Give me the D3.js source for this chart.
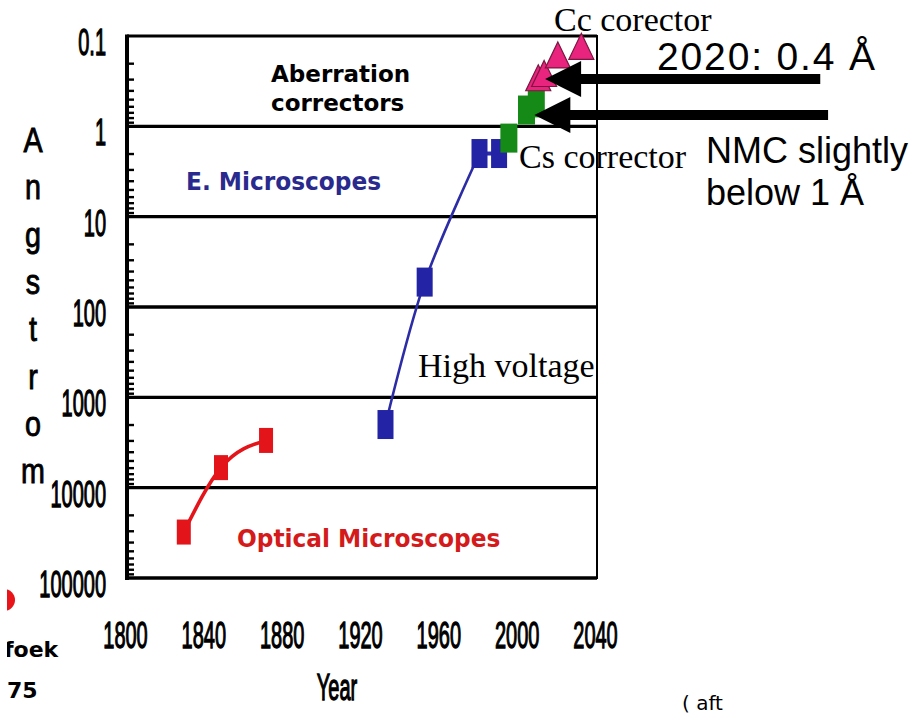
<!DOCTYPE html>
<html><head><meta charset="utf-8">
<script src="https://cdn.jsdelivr.net/npm/d3@7"></script>
<style>body{margin:0;background:#fff;} svg{display:block;}</style>
</head><body>
<svg id="chart" width="917" height="714"></svg>
<script>
// ---- data ----
const opticalYears = [1829, 1848, 1871];
const opticalValues = [31000, 6000, 3000];
const emYears = [1932, 1952, 1980, 1990];
const emValues = [2000, 53, 2, 2];
const csYears = [1995, 2004, 2009];
const csValues = [1.35, 0.66, 0.55];
const ccYears = [2010, 2013, 2020, 2032];
const ccValues = [0.29, 0.26, 0.162, 0.13];
const xTicks = [1800, 1840, 1880, 1920, 1960, 2000, 2040];
const yTicks = [0.1, 1, 10, 100, 1000, 10000, 100000];
const yTickLabels = ["0.1", "1", "10", "100", "1000", "10000", "100000"];
const arrowFromYears = [2154, 2158];
const arrowToYears = [2013.5, 2008];
const arrowValues = [0.3, 0.75];

// ---- setup ----
const svg = d3.select("#chart");
const m = {left: 127, right: 597, top: 36, bottom: 578};
const x = d3.scaleLinear().domain([1800, 2040]).range([m.left, m.right]);
const y = d3.scaleLog().domain([0.1, 100000]).range([m.top, m.bottom]);
const NARROW = "'Liberation Sans', Arial, sans-serif";
const SERIF = "'Liberation Serif', 'Times New Roman', serif";
const BOLD = "'DejaVu Sans', Verdana, sans-serif";

svg.append("rect").attr("width", 917).attr("height", 714).attr("fill", "#fff");

// gridlines at decades
svg.append("g").selectAll("line").data(yTicks).join("line")
  .attr("x1", m.left).attr("x2", m.right)
  .attr("y1", d => y(d)).attr("y2", d => y(d))
  .attr("stroke", "#000").attr("stroke-width", d => (d === 0.1 ? 2.8 : 3.4));
// right border
svg.append("line").attr("x1", m.right).attr("x2", m.right)
  .attr("y1", m.top - 1).attr("y2", m.bottom + 1)
  .attr("stroke", "#000").attr("stroke-width", 2);
// left axis line
svg.append("line").attr("x1", m.left).attr("x2", m.left)
  .attr("y1", m.top - 1.5).attr("y2", m.bottom + 2)
  .attr("stroke", "#000").attr("stroke-width", 4);

// minor ticks (inside)
const minor = [];
[0.1, 1, 10, 100, 1000, 10000].forEach(dec => { for (let k = 2; k <= 9; k++) minor.push(dec * k); });
const minorAxis = svg.append("g").attr("transform", `translate(${m.left},0)`)
  .call(d3.axisRight(y).tickValues(minor).tickSize(7).tickFormat(""));
minorAxis.select(".domain").remove();
minorAxis.selectAll("line").attr("stroke", "#000").attr("stroke-width", 2.4);

// y tick labels
const sx = 0.54;
const yAxis = svg.append("g").attr("transform", `translate(${m.left},0)`)
  .call(d3.axisLeft(y).tickValues(yTicks).tickFormat((d, i) => yTickLabels[i]).tickSize(0));
yAxis.select(".domain").remove();
yAxis.selectAll("text")
  .attr("font-family", NARROW).attr("font-size", 37).attr("fill", "#000")
  .attr("stroke", "#000").attr("stroke-width", 1.3)
  .attr("text-anchor", "end").attr("dy", 0).attr("y", 18.5)
  .attr("x", -21 / sx).attr("transform", `scale(${sx},1)`);

// x tick labels
const xAxis = svg.append("g").attr("transform", `translate(0,${m.bottom})`)
  .call(d3.axisBottom(x).tickValues(xTicks).tickFormat(d3.format("d")).tickSize(0));
xAxis.select(".domain").remove();
xAxis.selectAll("text")
  .attr("font-family", NARROW).attr("font-size", 37).attr("fill", "#000")
  .attr("stroke", "#000").attr("stroke-width", 1.3)
  .attr("text-anchor", "middle").attr("dy", 0).attr("y", 70)
  .attr("x", -2 / sx).attr("transform", `scale(${sx},1)`);

// axis titles
svg.append("text").attr("transform", `translate(337,700) scale(${sx},1)`)
  .attr("text-anchor", "middle").attr("font-family", NARROW).attr("font-size", 37)
  .attr("stroke", "#000").attr("stroke-width", 1.3)
  .text("Year");
"Angstrom".split("").forEach((ch, i) => {
  svg.append("text").attr("transform", `translate(33,${152 + i * 47.3}) scale(0.82,1)`)
    .attr("text-anchor", "middle").attr("font-family", NARROW).attr("font-size", 35)
    .attr("stroke", "#000").attr("stroke-width", 0.9)
    .text(ch);
});

// ---- series ----
const opt = opticalYears.map((yr, i) => [yr, opticalValues[i]]);
const em = emYears.map((yr, i) => [yr, emValues[i]]);
const cs = csYears.map((yr, i) => [yr, csValues[i]]);
const cc = ccYears.map((yr, i) => [yr, ccValues[i]]);
const smooth = d3.line().x(d => x(d[0])).y(d => y(d[1])).curve(d3.curveMonotoneX);
const curved = d3.line().x(d => x(d[0])).y(d => y(d[1])).curve(d3.curveCatmullRom.alpha(0.5));
const straight = d3.line().x(d => x(d[0])).y(d => y(d[1]));

svg.append("path").attr("d", smooth(opt)).attr("fill", "none")
  .attr("stroke", "#e3141a").attr("stroke-width", 3.6);
svg.append("path").attr("d", curved(em.slice(0, 3))).attr("fill", "none")
  .attr("stroke", "#2c2ca6").attr("stroke-width", 2.6);
svg.append("path").attr("d", straight(em.slice(2))).attr("fill", "none")
  .attr("stroke", "#2c2ca6").attr("stroke-width", 4);

function squares(data, w, h, fill) {
  svg.append("g").selectAll("rect").data(data).join("rect")
    .attr("x", d => x(d[0]) - w / 2).attr("y", d => y(d[1]) - h / 2)
    .attr("width", w).attr("height", h).attr("fill", fill);
}
squares(opt, 14, 25, "#e3141a");
squares(em, 16, 29, "#2323a6");
squares(cs, 17, 29, "#168a16");

svg.append("g").selectAll("path").data(cc).join("path")
  .attr("d", d => {
    const cx = x(d[0]), cy = y(d[1]);
    return `M${cx},${cy - 13}L${cx + 12.5},${cy + 13}L${cx - 12.5},${cy + 13}Z`;
  })
  .attr("fill", "#e8247e").attr("stroke", "#7a1640").attr("stroke-width", 1.2);

// ---- arrows ----
arrowValues.forEach((v, i) => {
  const tipX = x(arrowToYears[i]), tailX = x(arrowFromYears[i]), cy = y(v);
  const headL = 36, headW = 18, shaft = 5;
  svg.append("path")
    .attr("d", `M${tipX},${cy}L${tipX + headL},${cy - headW}L${tipX + headL},${cy - shaft}` +
      `L${tailX},${cy - shaft}L${tailX},${cy + shaft}L${tipX + headL},${cy + shaft}` +
      `L${tipX + headL},${cy + headW}Z`)
    .attr("fill", "#000");
});

// ---- labels ----
function txt(str, px, py, opts) {
  const t = svg.append("text")
    .attr("font-family", opts.family).attr("font-size", opts.size)
    .attr("font-weight", opts.weight || "normal").attr("fill", opts.fill || "#000")
    .attr("text-anchor", opts.anchor || "start").text(str);
  if (opts.sx) t.attr("transform", `translate(${px},${py}) scale(${opts.sx},1)`);
  else t.attr("x", px).attr("y", py);
  return t;
}
txt("Aberration", 271, 82, {family: BOLD, size: 23.5, weight: "bold", sx: 0.98});
txt("correctors", 271, 110.5, {family: BOLD, size: 23.5, weight: "bold", sx: 0.98});
txt("E. Microscopes", 186, 190, {family: BOLD, size: 24, weight: "bold", fill: "#2a2a8e", sx: 0.97});
txt("Optical Microscopes", 237, 547, {family: BOLD, size: 24, weight: "bold", fill: "#d41a1a", sx: 0.97});
txt("High voltage", 418, 377, {family: SERIF, size: 34});
txt("Cs corrector", 519, 168, {family: SERIF, size: 34});
txt("Cc corector", 554, 31, {family: SERIF, size: 34});
txt("2020: 0.4 Å", 657, 70, {family: NARROW, size: 39}).attr("textLength", 218).attr("lengthAdjust", "spacing");
txt("NMC slightly", 706, 163, {family: NARROW, size: 36});
txt("below 1 Å", 706, 205, {family: NARROW, size: 36});

// stray slide fragments at page edges
svg.append("circle").attr("cx", 4).attr("cy", 600).attr("r", 11).attr("fill", "#e8141a");
txt("foek", 4, 657, {family: BOLD, size: 22, weight: "bold"});
txt("75", 7, 698, {family: BOLD, size: 22, weight: "bold"});
svg.append("rect").attr("x", 0).attr("y", 560).attr("width", 7).attr("height", 154).attr("fill", "#fff");
svg.append("clipPath").attr("id", "cl").append("rect")
  .attr("x", 0).attr("y", 0).attr("width", 727).attr("height", 714);
txt("( aft", 682, 710, {family: BOLD, size: 20}).attr("clip-path", "url(#cl)");
</script>
</body></html>
